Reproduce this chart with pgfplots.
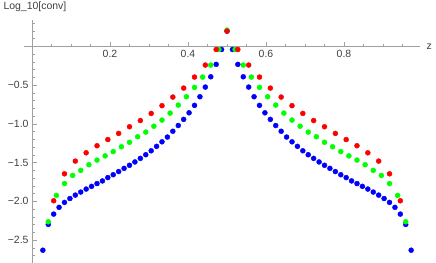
\documentclass[border=0pt]{standalone}
\usepackage{pgfplots}
\pgfplotsset{compat=1.18}
\usepackage{fontspec}
\setmainfont{Liberation Sans}
\definecolor{axgray}{HTML}{A0A0A0}
\definecolor{txt}{HTML}{404040}
\begin{document}
\begin{tikzpicture}
\useasboundingbox (0,0) rectangle (436bp,263bp);
\begin{axis}[
  at={(24.2bp,0bp)}, anchor=south west,
  scale only axis, width=395.85bp, height=242.96bp,
  xmin=-0.02, xmax=0.995, ymin=-2.795, ymax=0.34,
  enlargelimits=false,
  axis lines=middle,
  axis line style={draw=axgray,-},
  every inner x axis line/.append style={-},
  every inner y axis line/.append style={-},
  tick style={draw=axgray, line width=0.6pt},
  tick align=inside,
  major tick length=4.5bp, minor tick length=2.6bp,
  xtick={0.2,0.4,0.6,0.8},
  xticklabels={0.2,0.4,0.6,0.8},
  minor xtick={0.05,0.1,0.15,0.25,0.3,0.35,0.45,0.5,0.55,0.65,0.7,0.75,0.85,0.9,0.95},
  ytick={-2.5,-2,-1.5,-1,-0.5},
  yticklabels={−2.5,−2.0,−1.5,−1.0,−0.5},
  minor ytick={-2.7,-2.6,-2.4,-2.3,-2.2,-2.1,-1.9,-1.8,-1.7,-1.6,-1.4,-1.3,-1.2,-1.1,-0.9,-0.8,-0.7,-0.6,-0.4,-0.3,-0.2,-0.1,0.1,0.2,0.3},
  tick label style={font=\fontsize{10.5}{12}\selectfont, text=txt},
  xlabel={z}, ylabel={Log\_10[conv]},
  every axis x label/.style={at={(axis cs:0.995,0)}, anchor=west, xshift=3bp, font=\fontsize{10.5}{12}\selectfont, text=txt},
  every axis y label/.style={at={(axis cs:0,0.34)}, anchor=base west, xshift=-32bp, yshift=10.5bp, font=\fontsize{10.5}{12}\selectfont, text=txt},
  clip=false,
]
\addplot[only marks, mark=*, mark size=2.5bp, color=blue, mark options={draw=none, fill=blue}] coordinates {
(0.0278,-2.63) (0.0417,-2.297) (0.0556,-2.164) (0.0694,-2.077) (0.0833,-2.013) (0.0972,-1.963)
(0.1111,-1.919) (0.125,-1.880) (0.1389,-1.841) (0.1528,-1.806) (0.1667,-1.770) (0.1806,-1.736)
(0.1944,-1.693) (0.2083,-1.656) (0.2222,-1.615) (0.2361,-1.574) (0.25,-1.534) (0.2639,-1.491)
(0.2778,-1.445) (0.2917,-1.398) (0.3056,-1.347) (0.3194,-1.290) (0.3333,-1.231) (0.3472,-1.170)
(0.3611,-1.095) (0.375,-1.021) (0.3889,-0.942) (0.4028,-0.857) (0.4167,-0.761) (0.4306,-0.650)
(0.4444,-0.525) (0.4583,-0.392) (0.4722,-0.232) (0.4861,-0.04) (0.5,0.197)
(0.5139,-0.04) (0.5278,-0.232) (0.5417,-0.392) (0.5556,-0.525) (0.5694,-0.650) (0.5833,-0.761)
(0.5972,-0.857) (0.6111,-0.942) (0.625,-1.021) (0.6389,-1.095) (0.6528,-1.170) (0.6667,-1.231)
(0.6806,-1.290) (0.6944,-1.347) (0.7083,-1.398) (0.7222,-1.445) (0.7361,-1.491) (0.75,-1.534)
(0.7639,-1.574) (0.7778,-1.615) (0.7917,-1.656) (0.8056,-1.693) (0.8194,-1.736) (0.8333,-1.770)
(0.8472,-1.806) (0.8611,-1.841) (0.875,-1.880) (0.8889,-1.919) (0.9028,-1.963) (0.9167,-2.013)
(0.9306,-2.077) (0.9444,-2.164) (0.9583,-2.297) (0.9722,-2.63)
};
\addplot[only marks, mark=*, mark size=2.5bp, color=green, mark options={draw=none, fill=green}] coordinates {
(0.0417,-2.263) (0.0625,-1.923) (0.0833,-1.770) (0.1042,-1.665) (0.125,-1.600) (0.1458,-1.527)
(0.1667,-1.467) (0.1875,-1.413) (0.2083,-1.357) (0.2292,-1.295) (0.25,-1.237) (0.2708,-1.166)
(0.2917,-1.106) (0.3125,-1.030) (0.3333,-0.951) (0.3542,-0.861) (0.375,-0.757) (0.3958,-0.650)
(0.4167,-0.529) (0.4375,-0.396) (0.4583,-0.241) (0.4792,-0.04) (0.5,0.21)
(0.5208,-0.04) (0.5417,-0.241) (0.5625,-0.396) (0.5833,-0.529) (0.6042,-0.650) (0.625,-0.757)
(0.6458,-0.861) (0.6667,-0.951) (0.6875,-1.030) (0.7083,-1.106) (0.7292,-1.166) (0.75,-1.237)
(0.7708,-1.295) (0.7917,-1.357) (0.8125,-1.413) (0.8333,-1.467) (0.8542,-1.527) (0.875,-1.600)
(0.8958,-1.665) (0.9167,-1.770) (0.9375,-1.923) (0.9583,-2.263)
};
\addplot[only marks, mark=*, mark size=2.5bp, color=red, mark options={draw=none, fill=red}] coordinates {
(0.0556,-1.992) (0.0833,-1.644) (0.1111,-1.480) (0.1389,-1.373) (0.1667,-1.282) (0.1944,-1.202)
(0.2222,-1.123) (0.25,-1.037) (0.2778,-0.957) (0.3056,-0.865) (0.3333,-0.765) (0.3611,-0.654)
(0.3889,-0.538) (0.4167,-0.396) (0.4444,-0.241) (0.4722,-0.04) (0.5,0.197)
(0.5278,-0.04) (0.5556,-0.241) (0.5833,-0.396) (0.6111,-0.538) (0.6389,-0.654) (0.6667,-0.765)
(0.6944,-0.865) (0.7222,-0.957) (0.75,-1.037) (0.7778,-1.123) (0.8056,-1.202) (0.8333,-1.282)
(0.8611,-1.373) (0.8889,-1.480) (0.9167,-1.644) (0.9444,-1.992)
};
\end{axis}
\end{tikzpicture}
\end{document}
